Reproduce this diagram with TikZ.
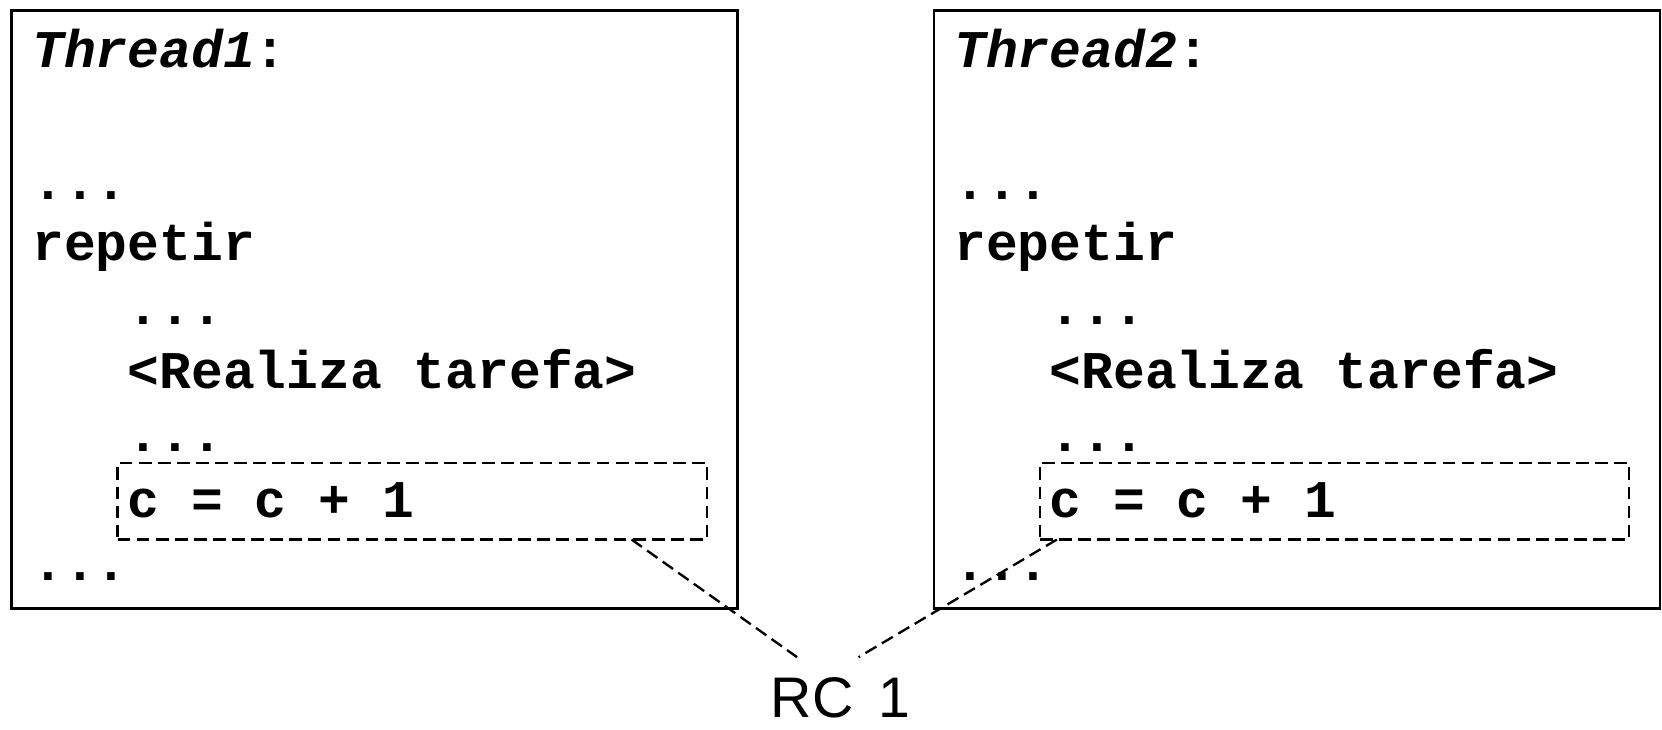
\documentclass[tikz,border=0pt]{standalone}
\usepackage{fontspec}
\setmainfont{Liberation Sans}
\setmonofont{Liberation Mono}
\usetikzlibrary{calc}
\begin{document}
\begin{tikzpicture}[x=0.5pt,y=-0.5pt,
  code/.style={font=\fontsize{25}{30}\selectfont\ttfamily\bfseries, inner sep=0pt, anchor=base west},
  panel/.style={draw, line width=1.2pt, inner sep=0pt, outer sep=0pt, anchor=north west, minimum width=342.5pt, minimum height=282pt},
  hotbox/.style={draw, line width=1.1pt, dash pattern=on 6pt off 3pt, inner sep=0pt, outer sep=0pt, anchor=north west, minimum width=278pt, minimum height=36pt},
  lead/.style={line width=1.1pt, dash pattern=on 6pt off 3pt}]
\useasboundingbox (0,0) rectangle (1568,688);
\foreach \p/\dx/\n in {L/0/1, R/870/2} {
  \node[panel] (\p box) at (11+\dx,10) {};
  \node[hotbox] (\p hot) at (111+\dx,437) {};
  \node[code] (\p t) at (30+\dx,64) {\itshape Thread\n\upshape:};
  \node[code] (\p d1) at (30+\dx,188) {...};
  \node[code] (\p rep) at (30+\dx,246) {repetir};
  \node[code] (\p d2) at (120+\dx,306) {...};
  \node[code] (\p task) at (120+\dx,367) {<Realiza tarefa>};
  \node[code] (\p d3) at (120+\dx,426) {...};
  \node[code] (\p inc) at (120+\dx,488) {c = c + 1};
  \node[code] (\p d4) at (30+\dx,548) {...};
}
\node[font=\fontsize{27}{32}\selectfont, inner sep=0pt, text depth=0pt, anchor=base] (rc) at (793,677) {RC\hspace{0.43em}1};
\coordinate (la) at (752,620);
\coordinate (ra) at (810,620);
\draw[lead] ($(Lhot.south west)!0.872!(Lhot.south east)$) -- (la);
\draw[lead] ($(Rhot.south west)!0.029!(Rhot.south east)$) -- (ra);
\end{tikzpicture}
\end{document}
